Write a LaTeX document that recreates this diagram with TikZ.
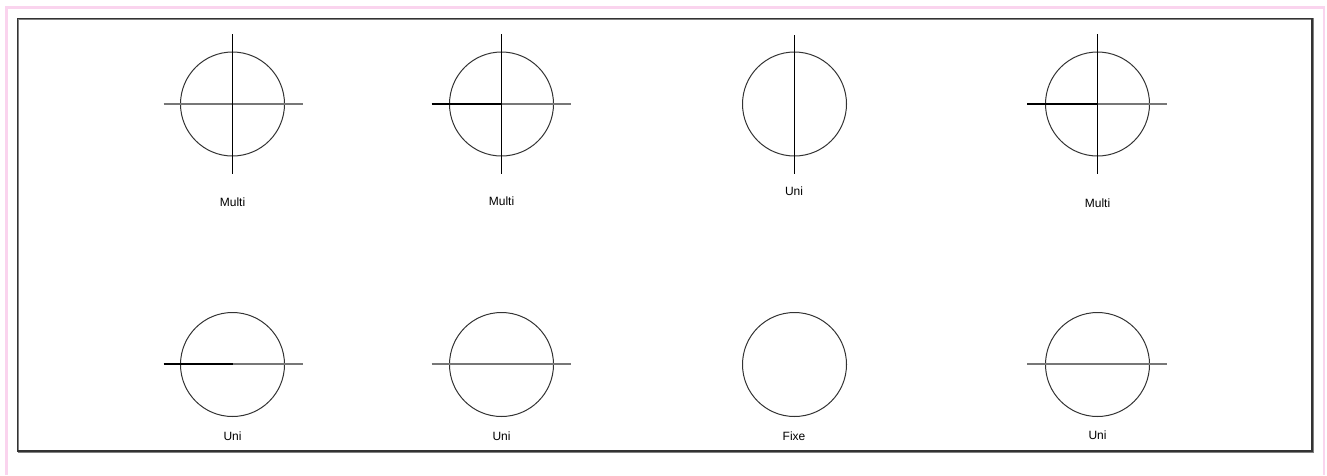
\documentclass[tikz,border=0pt]{standalone}
\usepackage{fontspec}
\setmainfont{Liberation Sans}
\definecolor{pinkframe}{HTML}{FAD4EE}
\definecolor{ringcol}{HTML}{333333}
\definecolor{graylinecol}{HTML}{777777}
\definecolor{shadowcol}{HTML}{808080}
\begin{document}
\begin{tikzpicture}[x=0.75pt,y=-0.75pt,
  ring/.style={draw=ringcol,circle,line width=0.75pt,minimum size=78pt,inner sep=0pt,outer sep=0pt},
  axisline/.style={draw=black,line width=0.75pt},
  thickline/.style={draw=black,line width=1.5pt},
  midline/.style={draw=black,line width=1.1pt},
  grayline/.style={draw=graylinecol,line width=1pt},
  lbl/.style={font=\fontsize{9}{10}\selectfont,inner sep=0pt}]
\useasboundingbox (0,0) rectangle (1327,475);
% pink frame
\coordinate (pa) at (6.5,475);
\coordinate (pb) at (6.5,7.5);
\coordinate (pc) at (1324,7.5);
\coordinate (pd) at (1324,475);
\draw[pinkframe,line width=1.6pt] (pa) -- (pb) -- (pc) -- (pd);
% inner box
\draw[shadowcol,line width=1.2pt] (18.5,19) rectangle (1313,452);
\draw[black!80,line width=0.8pt] (17.5,18.5) rectangle (1312,451);

% top row
\node[ring] (c1) at (232.5,104) {};
\node[ring] (c2) at (501.5,104) {};
\node[ring] (c3) at (794.5,104) {};
\node[ring] (c4) at (1097.5,104) {};
% bottom row
\node[ring] (c5) at (232.5,364.5) {};
\node[ring] (c6) at (501.5,364.5) {};
\node[ring] (c7) at (794.5,364.5) {};
\node[ring] (c8) at (1097.5,364.5) {};

% circle 1
\draw[grayline] ([xshift=-69*0.75pt]c1.center) -- ([xshift=70*0.75pt]c1.center);
\draw[axisline] ([yshift=70*0.75pt]c1.center) -- ([yshift=-70*0.75pt]c1.center);
% circle 2
\draw[grayline] (c2.center) -- ([xshift=69.5*0.75pt]c2.center);
\draw[thickline] ([xshift=-70*0.75pt]c2.center) -- (c2.center);
\draw[axisline] ([yshift=70*0.75pt]c2.center) -- ([yshift=-70*0.75pt]c2.center);
% circle 3
\draw[axisline] ([yshift=69*0.75pt]c3.center) -- ([yshift=-70*0.75pt]c3.center);
% circle 4
\draw[grayline] (c4.center) -- ([xshift=69.5*0.75pt]c4.center);
\draw[thickline] ([xshift=-70.5*0.75pt]c4.center) -- (c4.center);
\draw[axisline] (c4.center) -- ([yshift=-70*0.75pt]c4.center);
\draw[midline] ([yshift=70*0.75pt]c4.center) -- (c4.center);
% circle 5
\draw[grayline] ([yshift=0.375pt]c5.center) -- ([xshift=70*0.75pt,yshift=0.375pt]c5.center);
\draw[thickline] ([xshift=-69*0.75pt,yshift=0.375pt]c5.center) -- ([yshift=0.375pt]c5.center);
% circle 6
\draw[grayline] ([xshift=-70*0.75pt,yshift=0.375pt]c6.center) -- ([xshift=69.5*0.75pt,yshift=0.375pt]c6.center);
% circle 8
\draw[grayline] ([xshift=-70.5*0.75pt,yshift=0.375pt]c8.center) -- ([xshift=69.5*0.75pt,yshift=0.375pt]c8.center);

% labels
\node[lbl] (l1) at (232.5,202) {Multi};
\node[lbl] (l2) at (501.5,201.5) {Multi};
\node[lbl] (l3) at (794,191.5) {Uni};
\node[lbl] (l4) at (1097.5,203) {Multi};
\node[lbl] (l5) at (232.5,436) {Uni};
\node[lbl] (l6) at (501.5,436) {Uni};
\node[lbl] (l7) at (794,436) {Fixe};
\node[lbl] (l8) at (1097.5,435) {Uni};
\end{tikzpicture}
\end{document}
